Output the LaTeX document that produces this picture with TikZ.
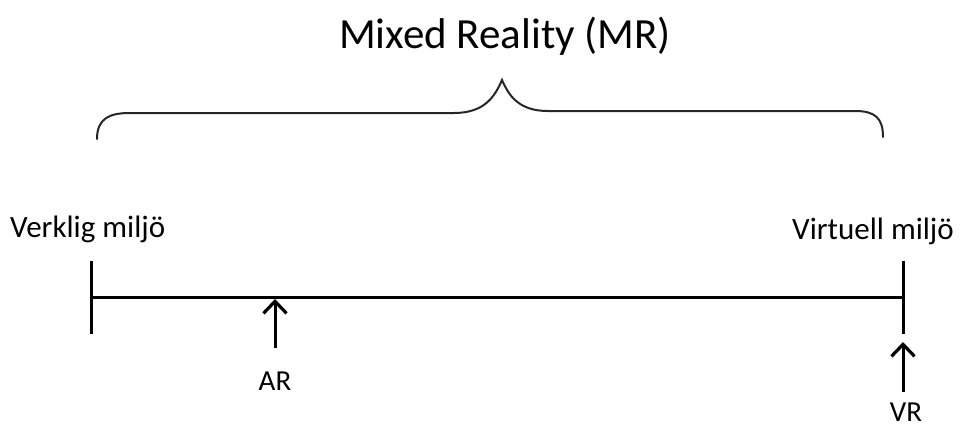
\documentclass[tikz,border=0pt]{standalone}
\usepackage{fontspec}
\setmainfont{Carlito}
\usetikzlibrary{arrows.meta,positioning}
\tikzset{
  axisline/.style={line width=3pt, black},
  tickline/.style={line width=3pt, black},
  markarrow/.style={-{Straight Barb[length=12pt, width=23pt, line width=3.2pt]}, line width=3pt, black},
  bracecurve/.style={line width=2pt, black!85, line cap=round},
  endlabel/.style={font=\fontsize{31}{36}\selectfont, inner sep=0pt},
  marklabel/.style={font=\fontsize{29}{34}\selectfont, inner sep=0pt},
  titlelabel/.style={font=\fontsize{43}{50}\selectfont, inner sep=0pt},
}

\begin{document}
\begin{tikzpicture}[x=1pt, y=-1pt]
\useasboundingbox (0,0) rectangle (961,429);
\node[titlelabel, anchor=base] (mr) at (505,48) {Mixed Reality (MR)};
\draw[bracecurve] (97,139) .. controls (97,118) and (110,113) .. (130,113)
  -- (454,113) .. controls (485,113) and (495,96) .. (502,80)
  .. controls (509,96) and (519,111) .. (548,111)
  -- (855,111) .. controls (875,111) and (883,118) .. (883,137);
\node[endlabel, anchor=base west] (real) at (10,237) {Verklig miljö};
\node[endlabel, anchor=base east] (virt) at (954,239) {Virtuell miljö};
\coordinate (lefttop) at (91,261);
\coordinate (leftbot) at (91,334);
\coordinate (righttop) at (903,261);
\coordinate (rightbot) at (903,334);
\coordinate (leftmid) at (91,297);
\coordinate (rightmid) at (903,297);
\draw[tickline] (lefttop) -- (leftbot);
\draw[tickline] (righttop) -- (rightbot);
\draw[axisline] (leftmid) -- (rightmid);
\coordinate (artail) at (275,348);
\coordinate (artip) at (275,299);
\coordinate (vrtail) at (903,392);
\coordinate (vrtip) at (903,342);
\draw[markarrow] (artail) -- (artip);
\draw[markarrow] (vrtail) -- (vrtip);
\node[marklabel, anchor=base] (ar) at (275,390) {AR};
\node[marklabel, anchor=base] (vr) at (906,421) {VR};
\end{tikzpicture}
\end{document}
